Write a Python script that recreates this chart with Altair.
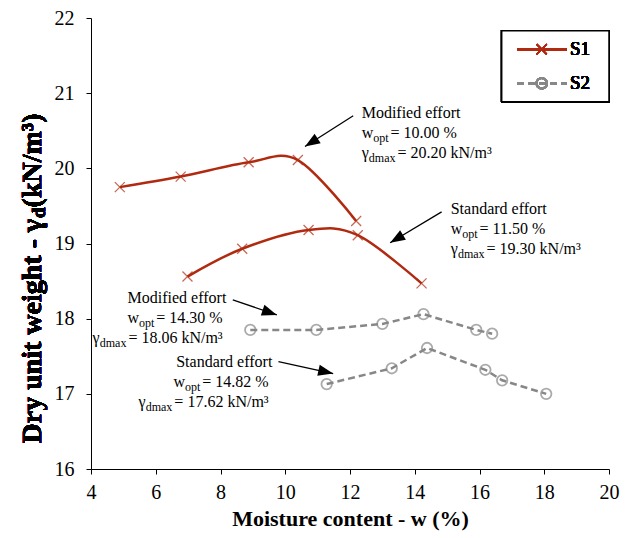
import math
import altair as alt
import pandas as pd

# ---- compaction data: moisture content w (%) and dry unit weight (kN/m3) ----
SERIES = ["S1", "S2"]
EFFORTS = ["Modified", "Standard"]

S1_MOD_W = [4.89, 6.77, 8.87, 10.39, 12.19]
S1_MOD_G = [19.75, 19.89, 20.08, 20.11, 19.30]
S1_STD_W = [6.98, 8.67, 10.72, 12.24, 14.21]
S1_STD_G = [18.56, 18.93, 19.18, 19.11, 18.47]

S2_MOD_W = [8.92, 10.96, 13.00, 14.27, 15.90, 16.39]
S2_MOD_G = [17.85, 17.85, 17.93, 18.06, 17.85, 17.80]
S2_STD_W = [11.28, 13.29, 14.38, 16.18, 16.70, 18.06]
S2_STD_G = [17.13, 17.34, 17.61, 17.32, 17.18, 17.00]

# ---- layout ----
W, H = 518, 451
X_DOMAIN = [4, 20]
Y_DOMAIN = [16, 22]
PX_W = W / (X_DOMAIN[1] - X_DOMAIN[0])
PX_G = H / (Y_DOMAIN[1] - Y_DOMAIN[0])

SERIF = "Liberation Serif, Times New Roman, Times, serif"
RED = "#B02A10"
GREY = "#878787"
CROSS = "M-1,-1L1,1M-1,1L1,-1"
HEAD = "M0,0L0.75,2L-0.75,2Z"

# advance widths (em) of the serif face, used to chain sub/superscript pieces
REG = {" ": .25, "M": .889, "o": .5, "d": .5, "i": .278, "f": .333, "e": .444,
       "r": .333, "t": .278, "S": .556, "a": .444, "n": .5, "w": .722, "p": .5,
       "=": .564, ".": .25, "%": .833, "γ": .45, "m": .778, "x": .5, "k": .5,
       "N": .722, "/": .278, "³": .3}
BOLD = {" ": .25, "D": .722, "r": .444, "y": .5, "u": .556, "n": .556, "i": .278,
        "t": .333, "w": .722, "e": .444, "g": .5, "h": .556, "-": .333, "γ": .5,
        "(": .333, "k": .556, "N": .722, "/": .278, "m": .833, "³": .3, ")": .333,
        "d": .556}
SUB_GAP = 2  # extra room after a subscript


def text_width(s, size, table):
    return sum(table.get(c, .5) for c in s) * size


# ---- long table of measured points ----
rows = []
for series, effort, ws, gs in [
    ("S1", "Modified", S1_MOD_W, S1_MOD_G),
    ("S1", "Standard", S1_STD_W, S1_STD_G),
    ("S2", "Modified", S2_MOD_W, S2_MOD_G),
    ("S2", "Standard", S2_STD_W, S2_STD_G),
]:
    for i, (w, g) in enumerate(zip(ws, gs)):
        rows.append({"series": series, "effort": effort, "w": w, "g": g, "order": i})
points = pd.DataFrame(rows)

x_ticks = [X_DOMAIN[0] + 0.5 * i for i in range(33)]
y_ticks = [Y_DOMAIN[0] + 0.25 * i for i in range(25)]

x_enc = alt.X(
    "w:Q",
    scale=alt.Scale(domain=X_DOMAIN, nice=False, zero=False),
    axis=alt.Axis(
        values=x_ticks, format="d",
        labelExpr="datum.value % 2 == 0 ? datum.label : ''",
        grid=False, tickSize=5, tickColor="black", domainColor="black",
        labelFont=SERIF, labelFontSize=20, labelColor="black", labelPadding=8,
        labelFlush=False, labelOverlap=False,
        titleFont=SERIF, titleFontSize=22, titleFontWeight="bold",
        titleColor="black", titlePadding=6,
    ),
    title="Moisture content - w (%)",
)
y_enc = alt.Y(
    "g:Q",
    scale=alt.Scale(domain=Y_DOMAIN, nice=False, zero=False),
    axis=alt.Axis(
        values=y_ticks, format="d",
        labelExpr="datum.value % 1 == 0 ? datum.label : ''",
        grid=False, tickSize=5, tickColor="black", domainColor="black",
        labelFont=SERIF, labelFontSize=20, labelColor="black", labelPadding=12,
        labelFlush=False, labelOverlap=False,
    ),
    title="",
)

base = alt.Chart(points)
s1 = base.transform_filter(alt.datum.series == "S1")
s2 = base.transform_filter(alt.datum.series == "S2")

s1_line = s1.mark_line(color=RED, strokeWidth=2.5, interpolate="cardinal", tension=0).encode(
    x=x_enc, y=y_enc, detail="effort:N", order="order:Q")
s1_pts = s1.mark_point(shape=CROSS, size=100, filled=False, color=RED, strokeWidth=1.3).encode(
    x="w:Q", y="g:Q")
s2_line = s2.mark_line(color=GREY, strokeWidth=2.5, strokeDash=[7, 4]).encode(
    x="w:Q", y="g:Q", detail="effort:N", order="order:Q")
s2_pts = s2.mark_point(shape="circle", size=110, filled=False, color=GREY, strokeWidth=1.8).encode(
    x="w:Q", y="g:Q")

# ---- annotations: (anchor w, anchor g, alignment, arrow start, arrow tip, lines) ----
MAIN, SUB = 16, 12
LINE_GAP = 20
ANNOTATIONS = [
    (12.36, 20.74, "left", (12.10, 20.70), (10.61, 20.29),
     [[("Modified effort", "m")],
      [("w", "m"), ("opt", "s"), (" = 10.00 %", "m")],
      [("γ", "m"), ("dmax", "s"), (" = 20.20 kN/m³", "m")]]),
    (15.11, 19.455, "left", (14.83, 19.42), (13.24, 19.01),
     [[("Standard effort", "m")],
      [("w", "m"), ("opt", "s"), (" = 11.50 %", "m")],
      [("γ", "m"), ("dmax", "s"), (" = 19.30 kN/m³", "m")]]),
    (8.19, 18.27, "right", (8.38, 18.25), (9.74, 18.05),
     [[("Modified effort", "m")],
      [("w", "m"), ("opt", "s"), (" = 14.30 %", "m")],
      [("γ", "m"), ("dmax", "s"), (" = 18.06 kN/m³", "m")]]),
    (9.61, 17.43, "right", (9.79, 17.43), (11.48, 17.27),
     [[("Standard effort", "m")],
      [("w", "m"), ("opt", "s"), (" = 14.82 %", "m")],
      [("γ", "m"), ("dmax", "s"), (" = 17.62 kN/m³", "m")]]),
]

piece_rows, arrow_rows = [], []
for aw, ag, align, (sw, sg), (tw, tg), lines in ANNOTATIONS:
    for li, line in enumerate(lines):
        widths = [text_width(t, MAIN, REG) if k == "m" else text_width(t, SUB, REG) + SUB_GAP
                  for t, k in line]
        start_px = 0 if align == "left" else -sum(widths)
        g = ag - li * LINE_GAP / PX_G
        offset = start_px
        for (t, k), wd in zip(line, widths):
            piece_rows.append({"w": aw + offset / PX_W, "g": g, "text": t, "kind": k})
            offset += wd
    dxs = (tw - sw) * PX_W
    dys = -(tg - sg) * PX_G
    arrow_rows.append({"w": sw, "g": sg, "w2": tw, "g2": tg,
                       "angle": math.degrees(math.atan2(dxs, -dys)) % 360})
pieces = pd.DataFrame(piece_rows)
arrows = pd.DataFrame(arrow_rows)

ann_main = alt.Chart(pieces).transform_filter(alt.datum.kind == "m").mark_text(
    font=SERIF, fontSize=MAIN, align="left", baseline="middle", color="black").encode(
    x="w:Q", y="g:Q", text="text:N")
ann_sub = alt.Chart(pieces).transform_filter(alt.datum.kind == "s").mark_text(
    font=SERIF, fontSize=SUB, align="left", baseline="middle", dy=5, color="black").encode(
    x="w:Q", y="g:Q", text="text:N")
arrow_shaft = alt.Chart(arrows).mark_rule(color="black", strokeWidth=1.3).encode(
    x="w:Q", y="g:Q", x2="w2:Q", y2="g2:Q")
arrow_head = alt.Chart(arrows).mark_point(
    shape=HEAD, size=225, filled=True, color="black", opacity=1).encode(
    x="w2:Q", y="g2:Q", angle=alt.Angle("angle:Q", scale=None))

# ---- y-axis title with subscript ----
T_MAIN, T_SUB = 28, 19
yt_parts = [("Dry unit weight - γ", T_MAIN, 0), ("d", T_SUB, 6), (" (kN/m³)", T_MAIN, 0)]
yt_widths = [text_width(t, s, BOLD) for t, s, _ in yt_parts]
yt_x = -58
yt_bottom = 257 + sum(yt_widths) / 2
y_title_layers = []
run = 0
for (t, s, dy), wd in zip(yt_parts, yt_widths):
    y_title_layers.append(
        alt.Chart(points).mark_text(
            text=t, font=SERIF, fontSize=s, fontWeight="bold", angle=270,
            align="left", baseline="middle", dy=dy, color="black").encode(
            x=alt.value(yt_x), y=alt.value(yt_bottom - run)))
    run += wd

# ---- legend box ----
LX0, LX1, LY0, LY1 = 410.7, 518, 12.7, 83.7
L_ROW = {"S1": 31.3, "S2": 65.3}
legend = [
    alt.Chart(points).mark_rect(fill="white", stroke="black", strokeWidth=1.5).encode(
        x=alt.value(LX0), x2=alt.value(LX1), y=alt.value(LY0), y2=alt.value(LY1)),
    alt.Chart(points).mark_rule(color=RED, strokeWidth=2.5).encode(
        x=alt.value(426), x2=alt.value(475.7), y=alt.value(L_ROW["S1"])),
    alt.Chart(points).mark_point(shape=CROSS, size=100, filled=False, color=RED, strokeWidth=1.3).encode(
        x=alt.value(450.7), y=alt.value(L_ROW["S1"])),
    alt.Chart(points).mark_rule(color=GREY, strokeWidth=2.5, strokeDash=[7, 4]).encode(
        x=alt.value(426), x2=alt.value(475.7), y=alt.value(L_ROW["S2"])),
    alt.Chart(points).mark_point(shape="circle", size=110, filled=False, color=GREY, strokeWidth=1.8).encode(
        x=alt.value(450.7), y=alt.value(L_ROW["S2"])),
]
for name in SERIES:
    legend.append(
        alt.Chart(points).mark_text(text=name, font=SERIF, fontSize=19, fontWeight="normal",
                                    align="left", baseline="middle", color="black").encode(
            x=alt.value(479), y=alt.value(L_ROW[name])))

chart = alt.layer(
    s1_line, s1_pts, s2_line, s2_pts,
    arrow_shaft, arrow_head, ann_main, ann_sub,
    *y_title_layers, *legend,
).properties(
    width=W, height=H,
    padding={"left": 91, "top": 18, "right": 633 - 91 - W, "bottom": 538 - 18 - H},
    autosize=alt.AutoSizeParams(type="none"),
    background="white",
).configure_view(stroke=None)

chart.save("out.html", embed_options={"renderer": "svg", "actions": False})
